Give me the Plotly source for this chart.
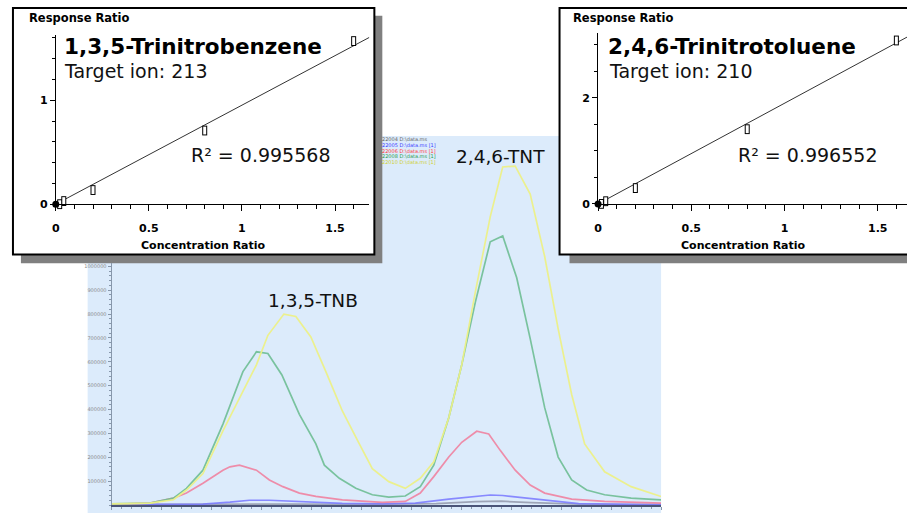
import plotly.graph_objects as go

W, H = 907, 515


def px(x):
    return x / W


def py(y):
    return 1 - y / H


# ---------------- calibration data ----------------
tnb_conc = [-0.037, 0.021, 0.043, 0.2, 0.8, 1.6]
tnb_resp = [-0.02, 0.0, 0.03, 0.136, 0.709, 1.57]
tnb_fit_x = [0.0, 1.684]
tnb_fit_y = [0.0, 1.605]

tnt_conc = [-0.04, 0.018, 0.041, 0.2, 0.8, 1.6]
tnt_resp = [-0.025, 0.0, 0.05, 0.298, 1.41, 3.085]
tnt_fit_x = [0.0, 1.657]
tnt_fit_y = [0.0, 3.148]

# ---------------- chromatogram data (time in min, abundance) ----------------
gray_t = [6.600, 6.800, 6.880, 6.960, 7.100, 7.250, 7.330, 7.380, 7.440, 7.550, 7.700]
gray_v = [2000, 3000, 6000, 4000, 2500, 6000, 14000, 16000, 10000, 3000, 2000]

blue_t = [6.600, 6.783, 6.837, 6.876, 6.916, 6.976, 7.062, 7.142, 7.208, 7.275,
          7.331, 7.358, 7.383, 7.438, 7.494, 7.535, 7.640, 7.700]
blue_v = [2000, 4000, 12000, 20000, 20000, 14000, 7000, 5000, 8000, 25000,
          38000, 42000, 40000, 28000, 14000, 6000, 3000, 2000]

red_t = [6.600, 6.677, 6.724, 6.750, 6.783, 6.823, 6.837, 6.856, 6.890, 6.916,
         6.943, 6.976, 7.009, 7.062, 7.142, 7.188, 7.218, 7.245, 7.275, 7.301,
         7.331, 7.355, 7.378, 7.408, 7.438, 7.467, 7.521, 7.587, 7.700]
red_v = [3000, 8000, 29000, 50000, 91000, 146000, 160000, 167000, 146000, 105000,
         77000, 50000, 36000, 22000, 11000, 15000, 50000, 119000, 201000, 263000,
         309000, 298000, 229000, 146000, 84000, 50000, 25000, 15000, 8000]

green_t = [6.600, 6.677, 6.724, 6.750, 6.783, 6.823, 6.863, 6.890, 6.913, 6.941,
           6.976, 7.009, 7.026, 7.056, 7.089, 7.122, 7.155, 7.188, 7.218, 7.245,
           7.275, 7.301, 7.328, 7.358, 7.383, 7.411, 7.438, 7.467, 7.494, 7.521,
           7.551, 7.587, 7.640, 7.700]
green_v = [5000, 8000, 29000, 70000, 146000, 339000, 559000, 642000, 635000, 545000,
           380000, 256000, 167000, 112000, 70000, 43000, 33000, 38000, 77000, 167000,
           366000, 587000, 848000, 1103000, 1127000, 952000, 697000, 408000, 201000, 105000,
           63000, 43000, 29000, 22000]

yellow_t = [6.600, 6.677, 6.724, 6.750, 6.783, 6.823, 6.863, 6.890, 6.913, 6.945,
            6.969, 6.999, 7.029, 7.062, 7.096, 7.122, 7.155, 7.188, 7.218, 7.245,
            7.275, 7.301, 7.328, 7.358, 7.383, 7.408, 7.438, 7.467, 7.494, 7.521,
            7.547, 7.587, 7.640, 7.700]
yellow_v = [5000, 8000, 22000, 63000, 132000, 311000, 476000, 587000, 711000, 800000,
            790000, 704000, 559000, 394000, 256000, 152000, 98000, 70000, 112000, 181000,
            366000, 587000, 890000, 1207000, 1416000, 1420000, 1303000, 1041000, 738000, 463000,
            256000, 139000, 77000, 36000]

legend_labels = ["22004 D:\\data.ms", "22005 D:\\data.ms [1]", "22006 D:\\data.ms [1]",
                 "22008 D:\\data.ms [1]", "22010 D:\\data.ms [1]"]
legend_colors = ["#666666", "#3a3aff", "#ff3a3a", "#2a9a4a", "#d0d030"]

abund_ticks = [100000, 200000, 300000, 400000, 500000, 600000, 700000, 800000, 900000, 1000000]

fig = go.Figure()

# chromatogram traces
series = [
    (gray_t, gray_v, "rgba(150,156,175,0.9)"),
    (blue_t, blue_v, "rgba(120,120,255,0.85)"),
    (red_t, red_v, "rgba(240,130,160,0.9)"),
    (green_t, green_v, "rgba(110,190,148,0.9)"),
    (yellow_t, yellow_v, "rgba(236,240,135,0.95)"),
]
for t, v, c in series:
    fig.add_trace(go.Scatter(x=t, y=v, mode="lines", line=dict(color=c, width=1.7),
                             xaxis="x", yaxis="y", hoverinfo="skip"))

# empty trace keeps the visible chromatogram axes subplot alive
fig.add_trace(go.Scatter(x=[], y=[], xaxis="x4", yaxis="y4"))

# calibration plots: fit line, hollow tall rectangles, origin dot
for cx, cy, fx, fy, xa, ya in [
    (tnb_conc, tnb_resp, tnb_fit_x, tnb_fit_y, "x2", "y2"),
    (tnt_conc, tnt_resp, tnt_fit_x, tnt_fit_y, "x3", "y3"),
]:
    fig.add_trace(go.Scatter(x=fx, y=fy, mode="lines", line=dict(color="#333333", width=1),
                             xaxis=xa, yaxis=ya, cliponaxis=False))
    fig.add_trace(go.Scatter(x=cx, y=cy, mode="markers",
                             marker=dict(symbol="line-ns", size=7, color="black",
                                         line=dict(color="black", width=5)),
                             xaxis=xa, yaxis=ya, cliponaxis=False))
    fig.add_trace(go.Scatter(x=cx, y=cy, mode="markers",
                             marker=dict(symbol="line-ns", size=5.6, color="white",
                                         line=dict(color="white", width=3)),
                             xaxis=xa, yaxis=ya, cliponaxis=False))
    fig.add_trace(go.Scatter(x=[0], y=[0], mode="markers",
                             marker=dict(color="black", size=7, symbol="circle"),
                             xaxis=xa, yaxis=ya, cliponaxis=False))

bold_tick = dict(family="DejaVu Sans", size=11, color="black", weight="bold")


def cal_x(domain, rng):
    return dict(domain=domain, range=rng, showline=True, linecolor="black", linewidth=1,
                ticks="outside", ticklen=6, tickcolor="black", tickwidth=1, dtick=0.5, tick0=0,
                minor=dict(dtick=0.1, ticks="outside", ticklen=4, tickcolor="black"),
                tickfont=bold_tick, showgrid=False, zeroline=False, ticklabelstandoff=8,
                fixedrange=True)


def cal_y(domain, rng, dt, mdt):
    return dict(domain=domain, range=rng, showline=True, linecolor="black", linewidth=1,
                ticks="outside", ticklen=5, tickcolor="black", tickwidth=1, dtick=dt, tick0=0,
                minor=dict(dtick=mdt, ticks="outside", ticklen=3, tickcolor="black"),
                tickfont=bold_tick, showgrid=False, zeroline=False, fixedrange=True)


axis_col = "#8797ab"
layout = dict(
    width=W, height=H, margin=dict(l=0, r=0, t=0, b=0),
    paper_bgcolor="white", plot_bgcolor="rgba(0,0,0,0)", showlegend=False,
    xaxis=dict(domain=[px(108), px(660)], range=[6.60, 7.70], visible=False, anchor="y"),
    yaxis=dict(domain=[py(512), py(138)], range=[0, 1545454], visible=False, anchor="x"),
    xaxis4=dict(domain=[px(108), px(660)], range=[6.60, 7.70], anchor="y4", showline=True,
                linecolor="#4a5478", linewidth=1.5, ticks="outside", ticklen=3, tickcolor=axis_col,
                dtick=0.1, tick0=6.6, minor=dict(dtick=0.02, ticks="outside", ticklen=2, tickcolor=axis_col),
                showticklabels=False, showgrid=False, zeroline=False),
    yaxis4=dict(domain=[py(512), py(267)], range=[0, 1012397], anchor="x4", showline=True,
                linecolor=axis_col, linewidth=1, ticks="outside", ticklen=3, tickcolor=axis_col,
                tickvals=abund_ticks, ticktext=[str(v) for v in abund_ticks],
                minor=dict(dtick=20000, ticks="outside", ticklen=2, tickcolor=axis_col),
                tickfont=dict(family="DejaVu Sans", size=5, color="#8a8a8a"),
                showgrid=False, zeroline=False),
    xaxis2=dict(cal_x([px(52), px(367)], [0, 1.6845]), anchor="y2"),
    yaxis2=dict(cal_y([py(207), py(35)], [0, 1.633], 1, 0.2), anchor="x2"),
    xaxis3=dict(cal_x([px(596.7), 1.0], [0, 1.657]), anchor="y3"),
    yaxis3=dict(cal_y([py(206.7), py(33.3)], [0, 3.229], 2, 0.5), anchor="x3"),
)

shapes = [
    dict(type="rect", xref="paper", yref="paper", x0=px(84), x1=px(660), y0=py(520), y1=py(138),
         fillcolor="#dcebfb", line=dict(width=0), layer="below"),
    dict(type="rect", xref="paper", yref="paper", x0=px(17), x1=px(380), y0=py(267), y1=py(16),
         fillcolor="#808080", line=dict(width=0), layer="below"),
    dict(type="rect", xref="paper", yref="paper", x0=px(9), x1=px(372), y0=py(258), y1=py(8),
         fillcolor="white", line=dict(color="black", width=2), layer="below"),
    dict(type="rect", xref="paper", yref="paper", x0=px(568), x1=px(940), y0=py(267), y1=py(16),
         fillcolor="#808080", line=dict(width=0), layer="below"),
    dict(type="rect", xref="paper", yref="paper", x0=px(558), x1=px(940), y0=py(258), y1=py(8),
         fillcolor="white", line=dict(color="black", width=2), layer="below"),
]
layout["shapes"] = shapes


def note(text, x, y, size, bold=False, color="black", family="DejaVu Sans"):
    return dict(text=text, x=px(x), y=py(y), xref="paper", yref="paper", showarrow=False,
                xanchor="center", yanchor="middle",
                font=dict(family=family, size=size, color=color, weight="bold" if bold else "normal"))


ann = [
    note("Response Ratio", 75.5, 18, 11.5, bold=True),
    note("1,3,5-Trinitrobenzene", 190, 47.5, 21.5, bold=True),
    note("Target ion: 213", 132, 71.5, 19, color="#111111"),
    note("R\u00b2 = 0.995568", 257.5, 157, 19, color="#111111"),
    note("Concentration Ratio", 200, 248.5, 11, bold=True),
    note("Response Ratio", 622, 18, 11.5, bold=True),
    note("2,4,6-Trinitrotoluene", 731, 47.5, 21.5, bold=True),
    note("Target ion: 210", 679.5, 71.5, 19, color="#111111"),
    note("R\u00b2 = 0.996552", 807, 157, 19, color="#111111"),
    note("Concentration Ratio", 743, 248.5, 11, bold=True),
    note("1,3,5-TNB", 310, 304.5, 18.5, color="#111111"),
    note("2,4,6-TNT", 499, 158.5, 18.5, color="#111111"),
]
for i, (lab, col) in enumerate(zip(legend_labels, legend_colors)):
    a = note(lab, 378, 141 + 5.8 * i, 5, color=col)
    a["xanchor"] = "left"
    ann.append(a)
layout["annotations"] = ann

fig.update_layout(**layout)
fig.write_html("out.html")
